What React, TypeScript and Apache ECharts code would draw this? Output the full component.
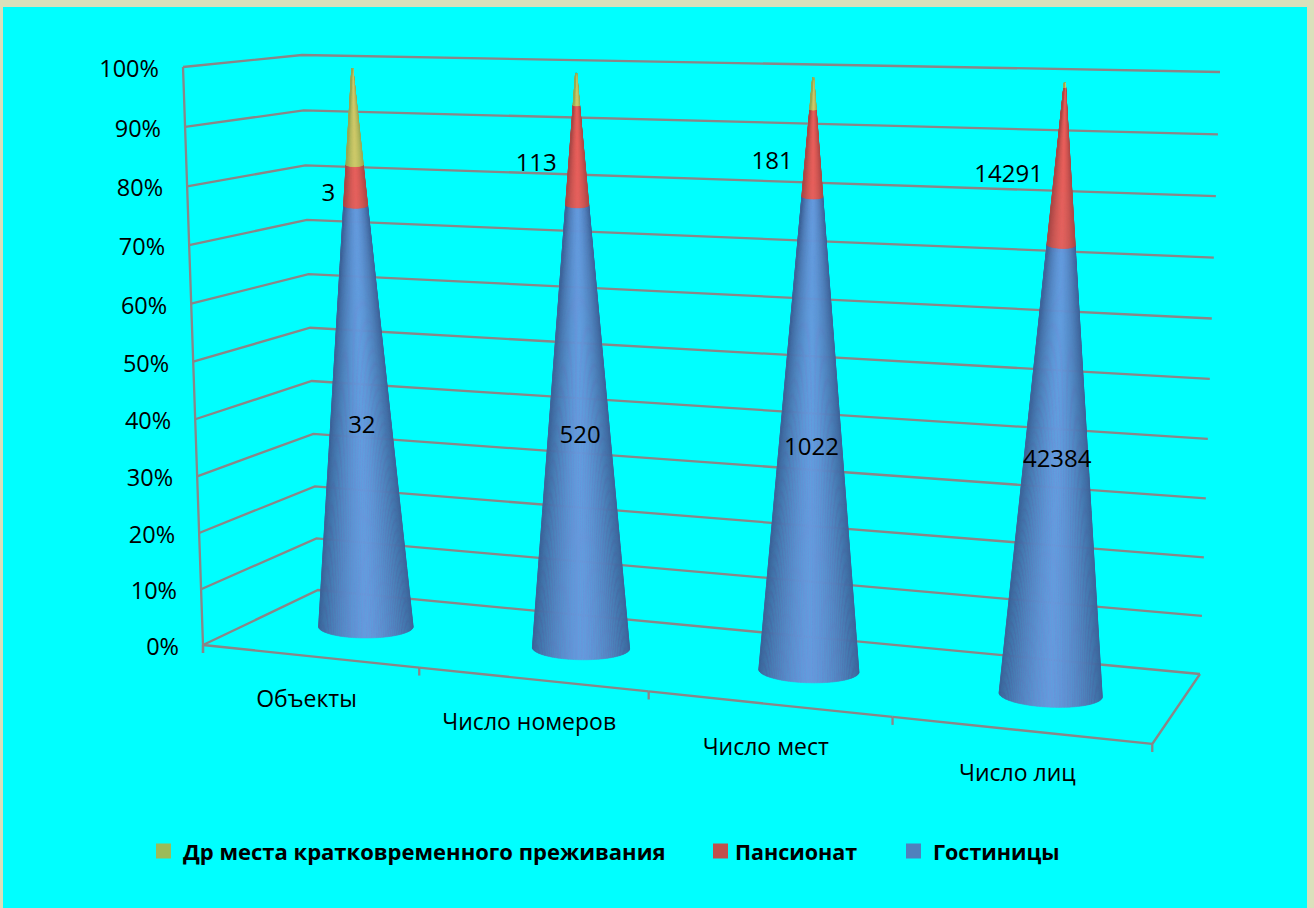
import React, { useEffect, useRef } from "react";
import * as echarts from "echarts";

// ---- data ----
const categories = ["Объекты", "Число номеров", "Число мест", "Число лиц"];
const hotels = [32, 520, 1022, 42384];
const pensions = [3, 113, 181, 14291];
const otherPlaces = [7, 36, 65, 400];
const yTicks = [0, 10, 20, 30, 40, 50, 60, 70, 80, 90, 100];
const yTickLabels = ["0%", "10%", "20%", "30%", "40%", "50%", "60%", "70%", "80%", "90%", "100%"];
const seriesNames = ["Гостиницы", "Пансионат", "Др места кратковременного преживания"];

// ---- look ----
const FONT = '"Open Sans", sans-serif';
const LINE = "#8b8587";
const legendColors = { blue: "#4F81BD", red: "#C0504D", green: "#9BBB59" };
const ramps: Record<string, number[][]> = {
  blue: [[103, 152, 220], [62, 100, 154]],
  red: [[232, 94, 90], [170, 72, 70]],
  green: [[206, 200, 104], [150, 170, 84]],
};

// ---- projection of the 3-D box: unit square -> screen quad ----
type P = number[];
const PERSP_U = -0.115;
const PERSP_V = 0.0825;
const depth = (u: number, v: number) => PERSP_U * u + PERSP_V * v + 1;
function sharedQuad(front: P, back: P, backRight: P) {
  const axis = (k: number) => {
    const c = front[k];
    const b = back[k] * (1 + PERSP_V) - c;
    const a = backRight[k] * (1 + PERSP_U + PERSP_V) - b - c;
    return [a, b, c];
  };
  const X = axis(0), Y = axis(1);
  return (u: number, v: number) => {
    const w = depth(u, v);
    return [(X[0] * u + X[1] * v + X[2]) / w, (Y[0] * u + Y[1] * v + Y[2]) / w];
  };
}
const floor = sharedQuad([203, 645], [318, 590], [1200, 674]);
const ceiling = sharedQuad([183, 67], [302, 55], [1220, 72]);
const warp = (p: number) => p / (1 + 0.04 * (1 - p));
const lerp = (a: P, b: P, t: number) => [a[0] + (b[0] - a[0]) * t, a[1] + (b[1] - a[1]) * t];
const project = (u: number, v: number, p: number) => lerp(floor(u, v), ceiling(u, v), warp(p));

function norm(params: any, api: any, cat: number, val: number) {
  const c = api.coord([cat, val]);
  const cs = params.coordSys;
  return { u: (c[0] - cs.x) / cs.width, p: (cs.y + cs.height - c[1]) / cs.height };
}

const txt = (text: string, x: number, y: number, size: number, align: string) => ({
  type: "text",
  silent: true,
  style: { text, x, y, fill: "#000", font: `${size}px ${FONT}`, textAlign: align, textVerticalAlign: "middle" },
});
const line = (points: number[][], z2 = 0) => ({
  type: "polyline",
  silent: true,
  z2,
  shape: { points },
  style: { stroke: LINE, lineWidth: 2.3, fill: null },
});

// shares of each stack, in percent
const totals = categories.map((_, i) => hotels[i] + pensions[i] + otherPlaces[i]);
const stack = (lower: number[][], vals: number[]) =>
  vals.map((v, i) => {
    const lo = lower.reduce((s, l) => s + l[i], 0);
    return [i, (lo / totals[i]) * 100, ((lo + v) / totals[i]) * 100, v];
  });

const CONE_V = 0.5;
const CONE_R = 48.5;
const TIP = 0.99;
const STRIPS = 60;

function coneRender(rampKey: string, labelKind: "base" | "side" | null) {
  return (params: any, api: any) => {
    const i = api.value(0), lo = api.value(1), hi = api.value(2), val = api.value(3);
    const a = norm(params, api, i, lo), b = norm(params, api, i, hi);
    const u = a.u;
    const base = floor(u, CONE_V);
    const apex = ceiling(u, CONE_V);
    const rx = CONE_R / depth(u, CONE_V);
    const ry = rx * 0.24;
    const tilt = ((base[0] - 364) / 686) * 0.04;
    const at = (p: number, th: number) => {
      const t = warp(p) * TIP;
      const c = lerp(base, apex, t);
      const r = 1 - t;
      const dx = rx * r * Math.cos(th);
      return [c[0] + dx, c[1] + ry * r * Math.sin(th) + dx * tilt];
    };
    const [light, dark] = ramps[rampKey];
    const children: any[] = [];
    for (let s = 0; s < STRIPS; s++) {
      const t0 = (Math.PI * s) / STRIPS, t1 = (Math.PI * (s + 1)) / STRIPS;
      const k = Math.pow(Math.abs(Math.cos((t0 + t1) / 2)), 1.5);
      const col = `rgb(${light.map((c, n) => Math.round(c + (dark[n] - c) * k)).join(",")})`;
      children.push({
        type: "polygon",
        silent: true,
        shape: { points: [at(a.p, t0), at(a.p, t1), at(b.p, t1), at(b.p, t0)] },
        style: { fill: col, stroke: col, lineWidth: 0.6 },
      });
    }
    if (labelKind === "base") {
      const c = lerp(base, apex, 0.366 + 0.0078 * i);
      children.push({ ...txt(String(val), c[0] + 1, c[1] + 3, 24, "center"), z2: 10 });
    } else if (labelKind === "side") {
      const c = lerp(base, apex, warp((a.p + b.p) / 2) * TIP);
      children.push({ ...txt(String(val), c[0] - 20, c[1] + 6, 24, "right"), z2: 10 });
    }
    return { type: "group", children };
  };
}

function wallRender(params: any, api: any) {
  const tick = api.value(1);
  const { p } = norm(params, api, 0, tick);
  const front = project(0, 0, p), back = project(0, 1, p), right = project(1, 1, p);
  const children: any[] = [line([front, back, right]), txt(yTickLabels[params.dataIndex], front[0] - 24, front[1] + 1, 23.5, "right")];
  if (params.dataIndex === 0) {
    children.push(line([[front[0], front[1] + 8], front, project(0, 0, 1)]));
  }
  return { type: "group", children };
}

function floorRender(params: any, api: any) {
  const i = api.value(0);
  const { u } = norm(params, api, i, 0);
  const step = 1 / categories.length;
  const l = floor(u - step / 2, 0), r = floor(u + step / 2, 0), mid = floor(u, 0);
  const children: any[] = [line([l, r]), line([l, [l[0], l[1] + 8]])];
  if (i === categories.length - 1) {
    children.push(line([floor(1, 1), r, [r[0], r[1] + 8]]));
  }
  children.push(txt(categories[i], mid[0] - 3, mid[1] + 42, 23, "center"));
  return { type: "group", children };
}

export default function App() {
  const ref = useRef<HTMLDivElement>(null);
  useEffect(() => {
    const chart = echarts.init(ref.current!, undefined, { renderer: "svg" });
    const legend = (name: string, left: number, gap: number, size: number) => ({
      left,
      top: 840,
      orient: "horizontal",
      itemWidth: 15,
      itemHeight: 15,
      icon: "rect",
      padding: 0,
      selectedMode: false,
      data: [name],
      textStyle: { color: "#000", fontFamily: FONT, fontWeight: "bold", fontSize: size, padding: [0, 0, 4, gap] },
    });
    chart.setOption({
      animation: false,
      backgroundColor: "#D9E0BB",
      graphic: [{ type: "rect", silent: true, z: 0, shape: { x: 3, y: 7, width: 1304, height: 901 }, style: { fill: "#00FFFF" } }],
      grid: { left: 100, top: 60, width: 1000, height: 600 },
      xAxis: { type: "category", data: categories, show: false },
      yAxis: { type: "value", min: 0, max: 100, interval: 10, show: false },
      legend: [
        legend(seriesNames[2], 156, 7, 22),
        legend(seriesNames[1], 713, 2, 21.5),
        legend(seriesNames[0], 906, 7, 21.5),
      ],
      series: [
        { type: "custom", name: "walls", z: 2, data: yTicks.map((t) => [0, t]), encode: { x: 0, y: 1 }, renderItem: wallRender },
        { type: "custom", name: "floor", z: 2, data: categories.map((_, i) => [i, 0]), encode: { x: 0, y: 1 }, renderItem: floorRender },
        {
          type: "custom", name: seriesNames[0], z: 3, itemStyle: { color: legendColors.blue },
          data: stack([], hotels), encode: { x: 0, y: [1, 2] }, renderItem: coneRender("blue", "base"),
        },
        {
          type: "custom", name: seriesNames[1], z: 3, itemStyle: { color: legendColors.red },
          data: stack([hotels], pensions), encode: { x: 0, y: [1, 2] }, renderItem: coneRender("red", "side"),
        },
        {
          type: "custom", name: seriesNames[2], z: 3, itemStyle: { color: legendColors.green },
          data: stack([hotels, pensions], otherPlaces), encode: { x: 0, y: [1, 2] }, renderItem: coneRender("green", null),
        },
      ],
    });
    return () => chart.dispose();
  }, []);
  return <div ref={ref} style={{ position: "absolute", left: 0, top: 0, width: 1314, height: 908 }} />;
}
